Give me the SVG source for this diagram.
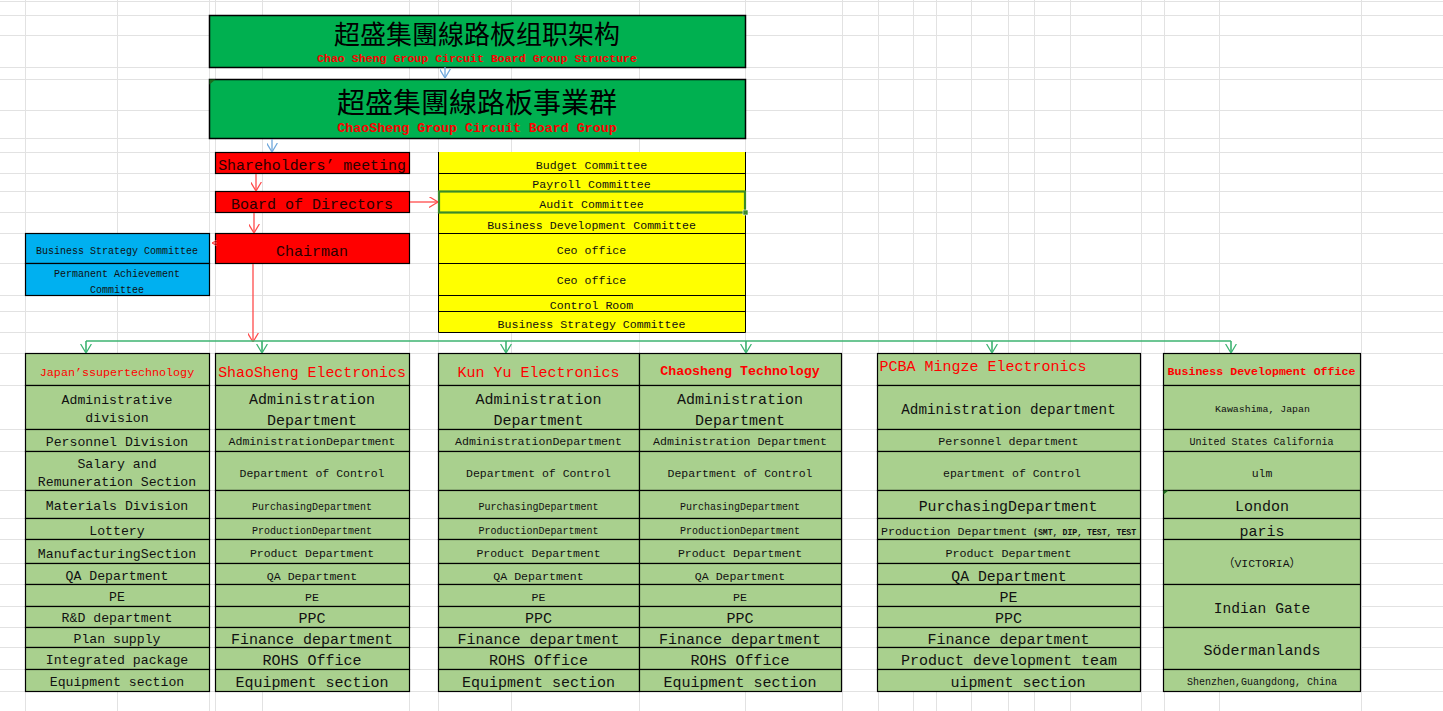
<svg xmlns="http://www.w3.org/2000/svg" width="1443" height="711" viewBox="0 0 1443 711">
<defs>
<style>
.grid{stroke:#e2e2e2;stroke-width:1;fill:none}
.cell{fill:#A9D08E;stroke:#000;stroke-width:1.2}
.yc{fill:#FFFF00;stroke:#000;stroke-width:1}
.bc{fill:#00B0F0;stroke:#000;stroke-width:1.2}
.rc{fill:#FF0000;stroke:#000;stroke-width:1.2}
.gc{fill:#00B050;stroke:#000;stroke-width:1.5}
text{font-family:"Liberation Mono","DejaVu Sans Mono","Noto Sans CJK SC",monospace;fill:#111;text-anchor:middle}
.cjk{font-family:"Noto Sans CJK SC","Noto Sans CJK TC",sans-serif;fill:#000}
.red{fill:#FF0000}
.b{font-weight:bold}
.dk{fill:#2a0000}
.l{text-anchor:start}
.cr{stroke:#FF4B4B;stroke-width:1.3;fill:none}
.cb{stroke:#6FA8DC;stroke-width:1.3;fill:none}
.cg{stroke:#3CB371;stroke-width:1.6;fill:none}
</style>
<marker id="mr" viewBox="0 0 10 12" refX="10" refY="6" markerWidth="9" markerHeight="11" markerUnits="userSpaceOnUse" orient="auto"><path d="M0,0 L10,6 L0,12" fill="none" stroke="#FF4B4B" stroke-width="1.4"/></marker>
<marker id="mb" viewBox="0 0 10 12" refX="10" refY="6" markerWidth="9" markerHeight="11" markerUnits="userSpaceOnUse" orient="auto"><path d="M0,0 L10,6 L0,12" fill="none" stroke="#6FA8DC" stroke-width="1.4"/></marker>
<marker id="mg" viewBox="0 0 10 12" refX="10" refY="6" markerWidth="9" markerHeight="12" markerUnits="userSpaceOnUse" orient="auto"><path d="M0,0 L10,6 L0,12" fill="none" stroke="#3CB371" stroke-width="1.4"/></marker>
<marker id="ms" viewBox="0 0 10 12" refX="10" refY="6" markerWidth="5" markerHeight="6" markerUnits="userSpaceOnUse" orient="auto"><path d="M0,0 L10,6 L0,12" fill="none" stroke="#FF4B4B" stroke-width="2"/></marker>
</defs>
<rect x="0" y="0" width="1443" height="711" fill="#fff"/>
<path class="grid" d="M0,1.5H1443M0,15.5H1443M0,35.5H1443M0,67.5H1443M0,79.5H1443M0,110.5H1443M0,138.5H1443M0,152.5H1443M0,173.5H1443M0,191.5H1443M0,212.5H1443M0,233.5H1443M0,263.5H1443M0,295.5H1443M0,311.5H1443M0,332.5H1443M0,353.5H1443M0,385.5H1443M0,429.5H1443M0,451.5H1443M0,490.5H1443M0,518.5H1443M0,539.5H1443M0,563.5H1443M0,584.5H1443M0,606.5H1443M0,627.5H1443M0,647.5H1443M0,669.5H1443M0,691.5H1443M25.5,0V711M117.5,0V711M209.5,0V711M215.5,0V711M262.5,0V711M409.5,0V711M438.5,0V711M511.5,0V711M639.5,0V711M745.5,0V711M842.5,0V711M878.5,0V711M913.5,0V711M936.5,0V711M971.5,0V711M1008.5,0V711M1034.5,0V711M1070.5,0V711M1141.5,0V711M1164.5,0V711M1219.5,0V711M1361.5,0V711"/>

<g id="title1">
<rect class="gc" x="209.5" y="15.5" width="536" height="52"/>
<text class="cjk" x="477" y="44" font-size="26">超盛集團線路板组职架构</text>
<text class="red b" x="477" y="62" font-size="11.6">Chao Sheng Group Circuit Board Group Structure</text>
</g>
<g id="title2">
<rect class="gc" x="209.5" y="79.5" width="536" height="59"/>
<path d="M209.5,79.5h6l-6,5z" fill="#1d6b1d"/>
<text class="cjk" x="477" y="113" font-size="28">超盛集團線路板事業群</text>
<text class="red b" x="477" y="132" font-size="13.3">ChaoSheng Group Circuit Board Group</text>
</g>
<g id="shareholders">
<rect class="rc" x="215.5" y="152.5" width="194" height="21"/>
<text class="dk" x="312" y="170" font-size="14.9">Shareholders’ meeting</text>
</g>
<g id="board">
<rect class="rc" x="215.5" y="191.5" width="194" height="21"/>
<text class="dk" x="312" y="209" font-size="15">Board of Directors</text>
</g>
<g id="chairman">
<rect class="rc" x="215.5" y="233.5" width="194" height="30"/>
<text class="dk" x="312" y="256" font-size="15">Chairman</text>
</g>
<g id="strategy">
<rect class="bc" x="25.5" y="233.5" width="184" height="30"/>
<rect class="bc" x="25.5" y="263.5" width="184" height="32"/>
<text x="117" y="253.5" font-size="10">Business Strategy Committee</text>
<text x="117" y="277" font-size="10">Permanent Achievement</text>
<text x="117" y="292.5" font-size="10">Committee</text>
</g>
<g id="committees">
<rect x="438.5" y="152" width="307" height="180.5" fill="#FFFF00"/>
<path d="M438.5,152V332.5H745.5V152" fill="none" stroke="#000" stroke-width="1"/>
<path d="M438.5,173.5H745.5M438.5,191.5H745.5M438.5,212.5H745.5M438.5,233.5H745.5M438.5,263.5H745.5M438.5,295.5H745.5M438.5,311.5H745.5" stroke="#000" stroke-width="1" fill="none"/>
<rect x="439" y="191.5" width="306" height="21" fill="none" stroke="#3A8A2A" stroke-width="2.2"/>
<rect x="743" y="210" width="5" height="5" fill="#3A8A2A" stroke="#fff" stroke-width="0.6"/>
<text x="591.5" y="168.5" font-size="11.6">Budget Committee</text>
<text x="591.5" y="187.5" font-size="11.6">Payroll Committee</text>
<text x="591.5" y="207.5" font-size="11.6">Audit Committee</text>
<text x="591.5" y="228.5" font-size="11.6">Business Development Committee</text>
<text x="591.5" y="253.5" font-size="11.6">Ceo office</text>
<text x="591.5" y="284" font-size="11.6">Ceo office</text>
<text x="591.5" y="308.5" font-size="11.6">Control Room</text>
<text x="591.5" y="327.5" font-size="11.6">Business Strategy Committee</text>
</g>

<g id="japan">
<rect class="cell" x="25.5" y="353.5" width="184" height="32"/>
<rect class="cell" x="25.5" y="385.5" width="184" height="44"/>
<rect class="cell" x="25.5" y="429.5" width="184" height="22"/>
<rect class="cell" x="25.5" y="451.5" width="184" height="39"/>
<rect class="cell" x="25.5" y="490.5" width="184" height="28"/>
<rect class="cell" x="25.5" y="518.5" width="184" height="21"/>
<rect class="cell" x="25.5" y="539.5" width="184" height="24"/>
<rect class="cell" x="25.5" y="563.5" width="184" height="21"/>
<rect class="cell" x="25.5" y="584.5" width="184" height="22"/>
<rect class="cell" x="25.5" y="606.5" width="184" height="21"/>
<rect class="cell" x="25.5" y="627.5" width="184" height="20"/>
<rect class="cell" x="25.5" y="647.5" width="184" height="22"/>
<rect class="cell" x="25.5" y="669.5" width="184" height="22"/>
<text class="red" x="117" y="376" font-size="11.7">Japan’ssupertechnology</text>
<text x="117" y="404" font-size="13.2">Administrative</text>
<text x="117" y="422" font-size="13.2">division</text>
<text x="117" y="446" font-size="13.2">Personnel Division</text>
<text x="117" y="468" font-size="13.2">Salary and</text>
<text x="117" y="486" font-size="13.2">Remuneration Section</text>
<text x="117" y="510" font-size="13.2">Materials Division</text>
<text x="117" y="535" font-size="13.2">Lottery</text>
<text x="117" y="558" font-size="13.2">ManufacturingSection</text>
<text x="117" y="579.5" font-size="13.2">QA Department</text>
<text x="117" y="601" font-size="13.2">PE</text>
<text x="117" y="622" font-size="13.2">R&amp;D department</text>
<text x="117" y="643" font-size="13.2">Plan supply</text>
<text x="117" y="664" font-size="13.2">Integrated package</text>
<text x="117" y="686" font-size="13.2">Equipment section</text>
</g>

<g id="shaosheng">
<rect class="cell" x="215.5" y="353.5" width="194" height="32"/>
<rect class="cell" x="215.5" y="385.5" width="194" height="44"/>
<rect class="cell" x="215.5" y="429.5" width="194" height="22"/>
<rect class="cell" x="215.5" y="451.5" width="194" height="39"/>
<rect class="cell" x="215.5" y="490.5" width="194" height="28"/>
<rect class="cell" x="215.5" y="518.5" width="194" height="21"/>
<rect class="cell" x="215.5" y="539.5" width="194" height="24"/>
<rect class="cell" x="215.5" y="563.5" width="194" height="21"/>
<rect class="cell" x="215.5" y="584.5" width="194" height="22"/>
<rect class="cell" x="215.5" y="606.5" width="194" height="21"/>
<rect class="cell" x="215.5" y="627.5" width="194" height="20"/>
<rect class="cell" x="215.5" y="647.5" width="194" height="22"/>
<rect class="cell" x="215.5" y="669.5" width="194" height="22"/>
<text class="red" x="312" y="377" font-size="14.9">ShaoSheng Electronics</text>
<text x="312" y="404" font-size="15">Administration</text>
<text x="312" y="424.5" font-size="15">Department</text>
<text x="312" y="445" font-size="11.6">AdministrationDepartment</text>
<text x="312" y="477" font-size="11.5">Department of Control</text>
<text x="312" y="509.5" font-size="10">PurchasingDepartment</text>
<text x="312" y="534" font-size="10">ProductionDepartment</text>
<text x="312" y="557" font-size="11.5">Product Department</text>
<text x="312" y="579.5" font-size="11.6">QA Department</text>
<text x="312" y="601" font-size="11.6">PE</text>
<text x="312" y="622.5" font-size="15">PPC</text>
<text x="312" y="643.5" font-size="15">Finance department</text>
<text x="312" y="664.5" font-size="15">ROHS Office</text>
<text x="312" y="687" font-size="15">Equipment section</text>
</g>

<g id="kunyu">
<rect class="cell" x="438.5" y="353.5" width="201" height="32"/>
<rect class="cell" x="438.5" y="385.5" width="201" height="44"/>
<rect class="cell" x="438.5" y="429.5" width="201" height="22"/>
<rect class="cell" x="438.5" y="451.5" width="201" height="39"/>
<rect class="cell" x="438.5" y="490.5" width="201" height="28"/>
<rect class="cell" x="438.5" y="518.5" width="201" height="21"/>
<rect class="cell" x="438.5" y="539.5" width="201" height="24"/>
<rect class="cell" x="438.5" y="563.5" width="201" height="21"/>
<rect class="cell" x="438.5" y="584.5" width="201" height="22"/>
<rect class="cell" x="438.5" y="606.5" width="201" height="21"/>
<rect class="cell" x="438.5" y="627.5" width="201" height="20"/>
<rect class="cell" x="438.5" y="647.5" width="201" height="22"/>
<rect class="cell" x="438.5" y="669.5" width="201" height="22"/>
<text class="red" x="538.5" y="377" font-size="15">Kun Yu Electronics</text>
<text x="538.5" y="404" font-size="15">Administration</text>
<text x="538.5" y="424.5" font-size="15">Department</text>
<text x="538.5" y="445" font-size="11.6">AdministrationDepartment</text>
<text x="538.5" y="477" font-size="11.5">Department of Control</text>
<text x="538.5" y="509.5" font-size="10">PurchasingDepartment</text>
<text x="538.5" y="534" font-size="10">ProductionDepartment</text>
<text x="538.5" y="557" font-size="11.5">Product Department</text>
<text x="538.5" y="579.5" font-size="11.6">QA Department</text>
<text x="538.5" y="601" font-size="11.6">PE</text>
<text x="538.5" y="622.5" font-size="15">PPC</text>
<text x="538.5" y="643.5" font-size="15">Finance department</text>
<text x="538.5" y="664.5" font-size="15">ROHS Office</text>
<text x="538.5" y="687" font-size="15">Equipment section</text>
</g>

<g id="chaosheng">
<rect class="cell" x="639.5" y="353.5" width="202" height="32"/>
<rect class="cell" x="639.5" y="385.5" width="202" height="44"/>
<rect class="cell" x="639.5" y="429.5" width="202" height="22"/>
<rect class="cell" x="639.5" y="451.5" width="202" height="39"/>
<rect class="cell" x="639.5" y="490.5" width="202" height="28"/>
<rect class="cell" x="639.5" y="518.5" width="202" height="21"/>
<rect class="cell" x="639.5" y="539.5" width="202" height="24"/>
<rect class="cell" x="639.5" y="563.5" width="202" height="21"/>
<rect class="cell" x="639.5" y="584.5" width="202" height="22"/>
<rect class="cell" x="639.5" y="606.5" width="202" height="21"/>
<rect class="cell" x="639.5" y="627.5" width="202" height="20"/>
<rect class="cell" x="639.5" y="647.5" width="202" height="22"/>
<rect class="cell" x="639.5" y="669.5" width="202" height="22"/>
<text class="red b" x="740" y="374.5" font-size="13.3">Chaosheng Technology</text>
<text x="740" y="404" font-size="15">Administration</text>
<text x="740" y="424.5" font-size="15">Department</text>
<text x="740" y="445" font-size="11.6">Administration Department</text>
<text x="740" y="477" font-size="11.5">Department of Control</text>
<text x="740" y="509.5" font-size="10">PurchasingDepartment</text>
<text x="740" y="534" font-size="10">ProductionDepartment</text>
<text x="740" y="557" font-size="11.5">Product Department</text>
<text x="740" y="579.5" font-size="11.6">QA Department</text>
<text x="740" y="601" font-size="11.6">PE</text>
<text x="740" y="622.5" font-size="15">PPC</text>
<text x="740" y="643.5" font-size="15">Finance department</text>
<text x="740" y="664.5" font-size="15">ROHS Office</text>
<text x="740" y="687" font-size="15">Equipment section</text>
</g>

<g id="pcba">
<rect class="cell" x="877.5" y="353.5" width="263" height="32"/>
<rect class="cell" x="877.5" y="385.5" width="263" height="44"/>
<rect class="cell" x="877.5" y="429.5" width="263" height="22"/>
<rect class="cell" x="877.5" y="451.5" width="263" height="39"/>
<rect class="cell" x="877.5" y="490.5" width="263" height="28"/>
<rect class="cell" x="877.5" y="518.5" width="263" height="21"/>
<rect class="cell" x="877.5" y="539.5" width="263" height="24"/>
<rect class="cell" x="877.5" y="563.5" width="263" height="21"/>
<rect class="cell" x="877.5" y="584.5" width="263" height="22"/>
<rect class="cell" x="877.5" y="606.5" width="263" height="21"/>
<rect class="cell" x="877.5" y="627.5" width="263" height="20"/>
<rect class="cell" x="877.5" y="647.5" width="263" height="22"/>
<rect class="cell" x="877.5" y="669.5" width="263" height="22"/>
<text class="red l" x="879.5" y="370.5" font-size="15">PCBA Mingze Electronics</text>
<text x="1008.5" y="413.5" font-size="14.3">Administration department</text>
<text x="1008.5" y="445" font-size="11.7">Personnel department</text>
<text x="1012" y="477" font-size="11.5">epartment of Control</text>
<text x="1008" y="511" font-size="14.9">PurchasingDepartment</text>
<text class="l" x="881" y="534.5" font-size="11.6">Production Department <tspan x="1033" font-size="8.2" font-weight="bold">(SMT, DIP, TEST, TEST</tspan></text>
<text x="1008.5" y="557" font-size="11.7">Product Department</text>
<text x="1009" y="581" font-size="14.8">QA Department</text>
<text x="1008.5" y="602" font-size="15">PE</text>
<text x="1008.5" y="622.5" font-size="15">PPC</text>
<text x="1008.5" y="643.5" font-size="15">Finance department</text>
<text x="1009" y="664.5" font-size="15">Product development team</text>
<text x="1018" y="687" font-size="15">uipment section</text>
</g>

<g id="bizdev">
<rect class="cell" x="1163.5" y="353.5" width="197" height="32"/>
<rect class="cell" x="1163.5" y="385.5" width="197" height="44"/>
<rect class="cell" x="1163.5" y="429.5" width="197" height="22"/>
<rect class="cell" x="1163.5" y="451.5" width="197" height="39"/>
<rect class="cell" x="1163.5" y="490.5" width="197" height="28"/>
<rect class="cell" x="1163.5" y="518.5" width="197" height="21"/>
<rect class="cell" x="1163.5" y="539.5" width="197" height="45"/>
<rect class="cell" x="1163.5" y="584.5" width="197" height="43"/>
<rect class="cell" x="1163.5" y="627.5" width="197" height="42"/>
<rect class="cell" x="1163.5" y="669.5" width="197" height="22"/>
<path d="M1163.5,490.5h5l-5,4z" fill="#1d6b1d"/>
<text class="red b" x="1261.5" y="374.5" font-size="11.6">Business Development Office</text>
<text x="1262.5" y="412" font-size="9.9">Kawashima, Japan</text>
<text x="1261.5" y="444.5" font-size="10">United States California</text>
<text x="1262" y="477" font-size="11.5">ulm</text>
<text x="1262" y="511" font-size="15">London</text>
<text x="1262" y="536" font-size="15">paris</text>
<text x="1262" y="567" font-size="11.5">（VICTORIA）</text>
<text x="1262" y="612.5" font-size="14.6">Indian Gate</text>
<text x="1262" y="654.5" font-size="15">Södermanlands</text>
<text x="1262" y="685" font-size="10">Shenzhen,Guangdong, China</text>
</g>

<g id="connectors">
<path class="cb" d="M445,67V78" marker-end="url(#mb)"/>
<path class="cb" d="M272,139V152" marker-end="url(#mb)"/>
<path class="cr" d="M256,174V191" marker-end="url(#mr)"/>
<path class="cr" d="M254,213V233" marker-end="url(#mr)"/>
<path class="cr" d="M253,264V342" marker-end="url(#mr)"/>
<path class="cr" d="M410,202H438" marker-end="url(#mr)"/>
<path class="cr" d="M217,243H212" marker-end="url(#ms)"/>
<path class="cg" d="M86,341H1231"/>
<path class="cg" d="M86,341V353" marker-end="url(#mg)"/>
<path class="cg" d="M262,341V353" marker-end="url(#mg)"/>
<path class="cg" d="M506,341V353" marker-end="url(#mg)"/>
<path class="cg" d="M746,341V353" marker-end="url(#mg)"/>
<path class="cg" d="M992,341V353" marker-end="url(#mg)"/>
<path class="cg" d="M1231,341V353" marker-end="url(#mg)"/>
</g>
</svg>
